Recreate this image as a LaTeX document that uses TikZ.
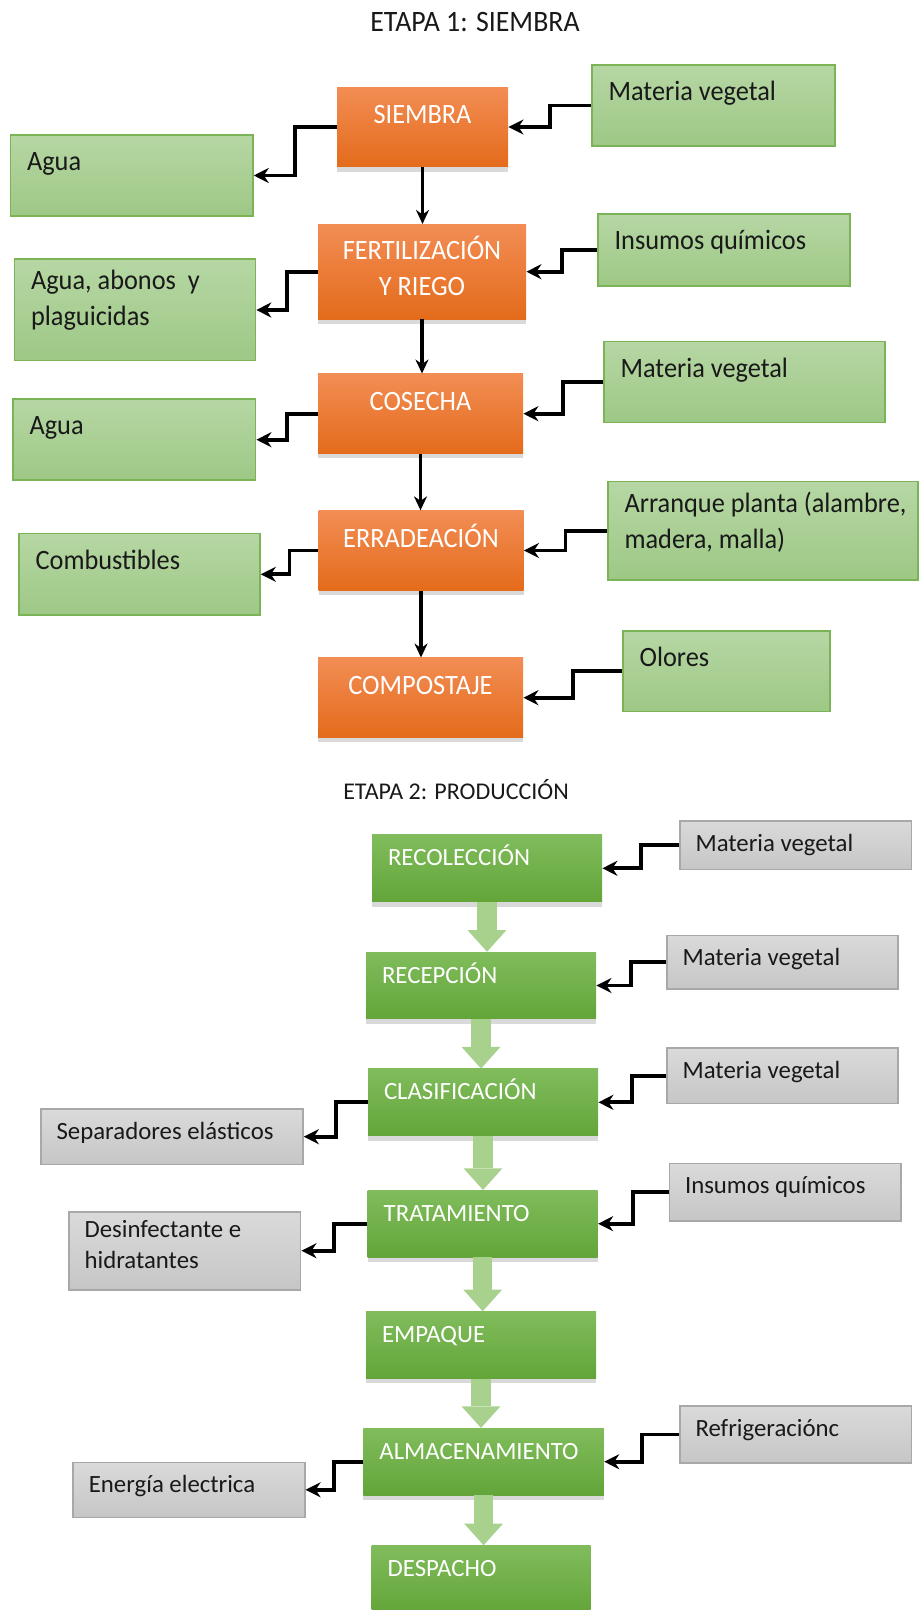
\documentclass[tikz,border=0pt]{standalone}
\usepackage{fontspec}
\setmainfont{Carlito}
\newfontfamily\angosta[FakeStretch=0.94]{Carlito}
\usetikzlibrary{arrows.meta,calc,shadows}

\definecolor{naranjaA}{RGB}{242,141,84}
\definecolor{naranjaB}{RGB}{228,107,27}
\definecolor{verdeclaroA}{RGB}{182,215,164}
\definecolor{verdeclaroB}{RGB}{158,200,134}
\definecolor{bordeverde}{RGB}{122,180,86}
\definecolor{verdeA}{RGB}{128,188,92}
\definecolor{verdeB}{RGB}{99,165,57}
\definecolor{grisA}{RGB}{218,218,218}
\definecolor{grisB}{RGB}{198,198,198}
\definecolor{bordegris}{RGB}{168,168,168}
\definecolor{flechaverde}{RGB}{169,209,142}
\definecolor{texto}{RGB}{25,25,25}

\begin{document}
\begin{tikzpicture}
  [x=0.5pt, y=-0.5pt,
   naranja/.style={rectangle, inner sep=0pt, minimum width=102.5pt, minimum height=39.75pt,
     top color=naranjaA, bottom color=naranjaB,
     drop shadow={shadow xshift=0pt, shadow yshift=-2.5pt, opacity=.3}},
   insumo/.style={rectangle, inner sep=0pt, draw=bordeverde, line width=.8pt,
     top color=verdeclaroA, bottom color=verdeclaroB, minimum width=121.5pt, minimum height=40.5pt},
   paso/.style={rectangle, inner sep=0pt, minimum width=115pt, minimum height=33.35pt,
     top color=verdeA, bottom color=verdeB,
     drop shadow={shadow xshift=0pt, shadow yshift=-2.5pt, opacity=.3}},
   gris/.style={rectangle, inner sep=0pt, draw=bordegris, line width=.8pt,
     top color=grisA, bottom color=grisB, minimum width=115.75pt, minimum height=27.5pt},
   txtuno/.style={inner sep=0pt, font=\angosta\fontsize{14}{18}\selectfont, execute at begin node=\strut},
   centrado/.style={txtuno, anchor=north, yshift=-5.75pt, align=center, text=white},
   izq/.style={txtuno, anchor=north west, xshift=8.5pt, yshift=-5.4pt, align=left, text=texto},
   txtdos/.style={inner sep=0pt, font=\fontsize{12.4}{15.5}\selectfont, anchor=north west,
     xshift=8pt, yshift=-4.65pt, align=left, execute at begin node=\strut},
   blanco/.style={txtdos, text=white},
   negro/.style={txtdos, text=texto},
   codo/.style={to path={-| ($(\tikztostart)!.5!(\tikztotarget)$) |- (\tikztotarget)}},
   linea/.style={line width=1.9pt, -{Stealth[length=7.5pt, width=7.5pt]}},
   baja/.style={line width=1.6pt, -{Stealth[length=7pt, width=6.5pt]}},
   bloque/.style={line width=9.65pt, flechaverde, -{Triangle[length=10.85pt, width=19.5pt, line width=0pt]}}]

  \useasboundingbox (0,0) rectangle (919,1610);

  \node (titulo1) [anchor=base, font=\angosta\fontsize{14.8}{17}\selectfont, text=texto] at (475,31.7) {ETAPA 1: SIEMBRA};

  \node[naranja, minimum width=85.5pt, label={[centrado]north:SIEMBRA}] (siembra) at (422.5,127) {};
  \node[naranja, minimum width=104pt, minimum height=47.35pt, label={[centrado]north:FERTILIZACIÓN\\Y RIEGO}] (riego) at (422,271.7) {};
  \node[naranja, label={[centrado]north:COSECHA}] (cosecha) at (420.5,413.7) {};
  \node[naranja, label={[centrado]north:ERRADEACIÓN}] (erradeacion) at (421,550.5) {};
  \node[naranja, label={[centrado]north:COMPOSTAJE}] (compostaje) at (420.5,697.7) {};

  \node[insumo, label={[izq]north west:Materia vegetal}] (vegetal1) at (713.5,105.5) {};
  \node[insumo, minimum width=121.25pt, label={[izq]north west:Agua}] (agua1) at (131.7,175.5) {};
  \node[insumo, minimum width=126pt, minimum height=35.85pt, label={[izq]north west:Insumos químicos}] (quimicos1) at (724,250) {};
  \node[insumo, minimum width=120.5pt, minimum height=50.7pt, label={[izq]north west:Agua, abonos~ y\\plaguicidas}] (abonos) at (135,310) {};
  \node[insumo, minimum width=140.5pt, minimum height=40.3pt, label={[izq]north west:Materia vegetal}] (vegetal2) at (744.5,382) {};
  \node[insumo, minimum width=121.3pt, label={[izq]north west:Agua}] (agua2) at (134.3,439.7) {};
  \node[insumo, minimum width=155pt, minimum height=49.15pt, label={[izq]north west:Arranque planta (alambre,\\madera, malla)}] (arranque) at (763,530.8) {};
  \node[insumo, minimum width=120.5pt, minimum height=40.65pt, label={[izq]north west:Combustibles}] (combustibles) at (139.5,574.3) {};
  \node[insumo, minimum width=103.5pt, minimum height=40.35pt, label={[izq]north west:Olores}] (olores) at (726.5,671.3) {};

  \foreach \a/\b in {siembra/riego, riego/cosecha, cosecha/erradeacion, erradeacion/compostaje}
    \draw[baja] (\a.south) -- (\a.south |- \b.north);

  \draw[linea] (vegetal1.west) to[codo] (siembra.east);
  \draw[linea] (siembra.west) to[codo] (agua1.east);
  \draw[linea] (quimicos1.west) to[codo] (riego.east);
  \draw[linea] (riego.west) to[codo] (abonos.east);
  \draw[linea] (vegetal2.west) to[codo] (cosecha.east);
  \draw[linea] (cosecha.west) to[codo] (agua2.east);
  \draw[linea] (arranque.west) to[codo] (erradeacion.east);
  \draw[linea] (erradeacion.west) to[codo] (combustibles.east);
  \draw[linea] (olores.west) to[codo] (compostaje.east);

  \node (titulo2) [anchor=base, font=\fontsize{12}{14}\selectfont, text=texto] at (456,799.3) {ETAPA 2: PRODUCCIÓN};

  \node[paso, label={[blanco]north west:RECOLECCIÓN}] (recoleccion) at (487,868.3) {};
  \node[paso, label={[blanco]north west:RECEPCIÓN}] (recepcion) at (481,985.5) {};
  \node[paso, label={[blanco]north west:CLASIFICACIÓN}] (clasificacion) at (483,1102.3) {};
  \node[paso, label={[blanco]north west:TRATAMIENTO}] (tratamiento) at (482.7,1223.7) {};
  \node[paso, label={[blanco]north west:EMPAQUE}] (empaque) at (481,1345) {};
  \node[paso, minimum width=120.2pt, label={[blanco]north west:ALMACENAMIENTO}] (almacenamiento) at (483.6,1461.7) {};
  \node[paso, minimum width=109.5pt, label={[blanco]north west:DESPACHO}] (despacho) at (481.2,1579) {};

  \node[gris, minimum height=24.3pt, label={[negro]north west:Materia vegetal}] (vegetal3) at (795.7,845) {};
  \node[gris, minimum width=115.5pt, minimum height=26.7pt, label={[negro]north west:Materia vegetal}] (vegetal4) at (782.5,962) {};
  \node[gris, minimum width=115.5pt, minimum height=27.65pt, label={[negro]north west:Materia vegetal}] (vegetal5) at (782.5,1075.7) {};
  \node[gris, minimum width=131pt, minimum height=27.65pt, label={[negro]north west:Separadores elásticos}] (separadores) at (172,1136.7) {};
  \node[gris, minimum width=115.8pt, minimum height=28.85pt, label={[negro]north west:Insumos químicos}] (quimicos2) at (785.2,1192.2) {};
  \node[gris, minimum width=115.85pt, minimum height=39pt, label={[negro]north west:Desinfectante e\\hidratantes}] (desinfectante) at (184.8,1250.7) {};
  \node[gris, minimum height=28.65pt, label={[negro]north west:Refrigeraciónc}] (refrigeracion) at (795.7,1434.4) {};
  \node[gris, label={[negro]north west:Energía electrica}] (energia) at (189,1489.8) {};

  \foreach \a/\b in {recoleccion/recepcion, recepcion/clasificacion, clasificacion/tratamiento,
      tratamiento/empaque, empaque/almacenamiento, almacenamiento/despacho}
    \draw[bloque] (\a.south) -- (\a.south |- \b.north);

  \draw[linea] (vegetal3.west) to[codo] (recoleccion.east);
  \draw[linea] (vegetal4.west) to[codo] (recepcion.east);
  \draw[linea] (vegetal5.west) to[codo] (clasificacion.east);
  \draw[linea] (clasificacion.west) to[codo] (separadores.east);
  \draw[linea] (quimicos2.west) to[codo] (tratamiento.east);
  \draw[linea] (tratamiento.west) to[codo] (desinfectante.east);
  \draw[linea] (refrigeracion.west) to[codo] (almacenamiento.east);
  \draw[linea] (almacenamiento.west) to[codo] (energia.east);
\end{tikzpicture}
\end{document}
